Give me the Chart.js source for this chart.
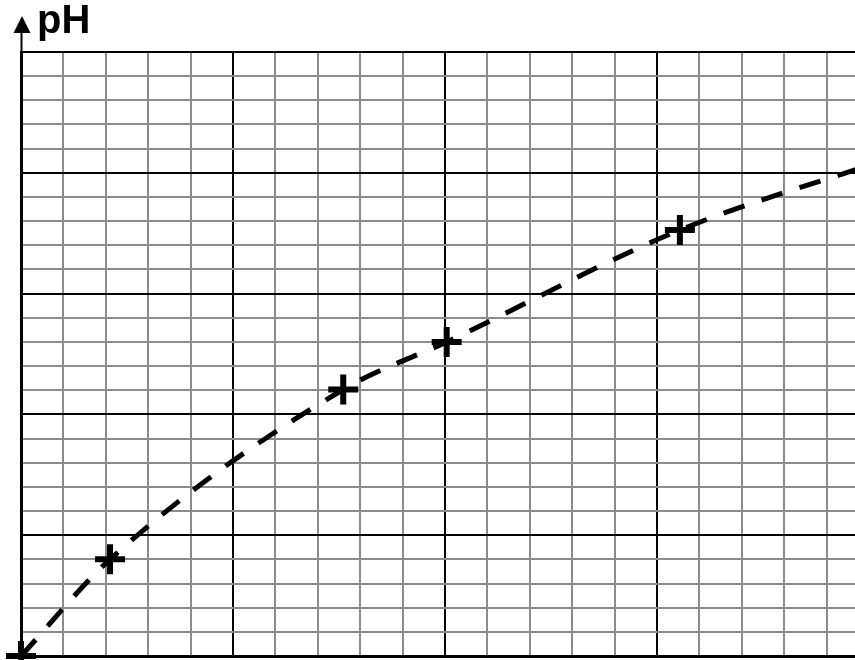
<!DOCTYPE html>
<html lang="en">
<head>
    <meta charset="UTF-8">
    <title>pH curve</title>
    <style>
        body { margin: 0; padding: 0; background: #fff; overflow: hidden; }
        #phChart { display: block; }
    </style>
</head>
<body>
    <canvas id="phChart" width="855" height="660"></canvas>

    <script src="https://cdn.jsdelivr.net/npm/chart.js"></script>
    <script>
        // Values, in grid squares
        const xValues = [0, 2.1, 7.6, 10.04, 15.54, 20.5];
        const phValues = [0, 4.0, 11.03, 13.0, 17.63, 20.6];
        const markerRadius = [15, 15, 15, 15, 15, 0]; // last point only extends the curve past the edge

        const xMax = 19.67;
        const yMax = 25;

        const points = xValues.map((x, i) => ({ x: x, y: phValues[i] }));

        // draws the arrow on the vertical axis and the "pH" label
        const axisArrow = {
            id: 'axisArrow',
            afterDraw(chart) {
                const ctx = chart.ctx;
                const left = chart.chartArea.left + 0.5;
                const top = chart.chartArea.top;
                ctx.save();
                ctx.strokeStyle = '#000';
                ctx.lineWidth = 2;
                ctx.beginPath();
                ctx.moveTo(left, top);
                ctx.lineTo(left, 30);
                ctx.stroke();
                ctx.fillStyle = '#000';
                ctx.beginPath();
                ctx.moveTo(left + 0.5, 16);
                ctx.lineTo(left - 8, 33);
                ctx.lineTo(left + 9, 33);
                ctx.closePath();
                ctx.fill();
                ctx.font = 'bold 40px "Liberation Sans", Arial, sans-serif';
                ctx.textBaseline = 'alphabetic';
                ctx.fillText('pH', 37, 33);
                ctx.restore();
            }
        };

        function gridColor(ctx) {
            return ctx.tick && ctx.tick.value % 5 === 0 ? '#000' : '#8c8c8c';
        }

        new Chart(document.getElementById('phChart'), {
            type: 'scatter',
            data: {
                datasets: [{
                    data: points,
                    showLine: true,
                    cubicInterpolationMode: 'monotone',
                    borderColor: '#000',
                    borderWidth: 5,
                    borderDash: [22, 18],
                    pointStyle: 'cross',
                    pointRadius: markerRadius,
                    pointBorderWidth: 6,
                    pointBorderColor: '#000',
                    pointHoverRadius: markerRadius,
                    clip: false
                }]
            },
            options: {
                responsive: false,
                animation: false,
                events: [],
                layout: { autoPadding: false, padding: { left: 21, top: 52, right: 0, bottom: 4 } },
                plugins: {
                    legend: { display: false },
                    tooltip: { enabled: false }
                },
                scales: {
                    x: {
                        type: 'linear',
                        min: 0,
                        max: xMax,
                        ticks: { display: false, stepSize: 1, includeBounds: false },
                        grid: { color: gridColor, lineWidth: 2, drawTicks: false },
                        border: { display: true, color: '#000', width: 3 }
                    },
                    y: {
                        type: 'linear',
                        min: 0,
                        max: yMax,
                        ticks: { display: false, stepSize: 1 },
                        grid: { color: gridColor, lineWidth: 2, drawTicks: false },
                        border: { display: true, color: '#000', width: 3 }
                    }
                }
            },
            plugins: [axisArrow]
        });
    </script>
</body>
</html>
